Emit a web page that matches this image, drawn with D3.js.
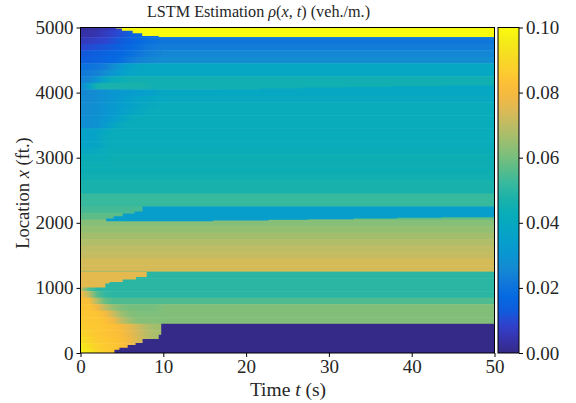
<!DOCTYPE html>
<html>
<head>
  <meta charset="utf-8">
  <title>LSTM Estimation</title>
  <script src="https://d3js.org/d3.v7.min.js"></script>
  <style>
    body { margin: 0; background: #fff; }
    text { font-family: "Liberation Serif", serif; fill: #262626; }
  </style>
</head>
<body>
<div id="chart"></div>
<script>
  // location of each row (ft), top of the plot first; every row is 100 ft tall
  const locations = d3.range(5000, -1, -100);
  // time columns for the early part (s); the last column holds until t = 50
  const timeCols = [0, 1, 2, 3, 4, 5, 6, 7, 8, 9, 10];

  // density per row (veh./m.) at each of the time columns
  const rho = [
    [.002,.003,.004,.005,.007,.009,.012,.015,.016,.017,.018],
    [.004,.004,.005,.007,.009,.011,.014,.016,.018,.019,.020],
    [.006,.007,.008,.009,.011,.013,.015,.017,.019,.020,.021],
    [.009,.010,.011,.012,.013,.015,.017,.019,.021,.022,.023],
    [.012,.013,.014,.015,.016,.017,.019,.021,.023,.024,.025],
    [.014,.014,.015,.016,.017,.019,.022,.024,.025,.026,.027],
    [.020,.020,.021,.023,.027,.032,.036,.038,.039,.039,.039],
    [.022,.023,.024,.027,.031,.035,.037,.039,.039,.039,.039],
    [.024,.025,.030,.038,.042,.044,.045,.045,.045,.045,.045],
    [.026,.035,.046,.047,.047,.047,.047,.047,.046,.045,.045],
    [.025,.026,.027,.029,.031,.032,.033,.034,.035,.036,.039],
    [.026,.026,.027,.029,.031,.033,.035,.037,.038,.039,.040],
    [.026,.027,.028,.030,.032,.034,.036,.038,.040,.041,.042],
    [.027,.027,.028,.030,.032,.035,.038,.040,.041,.042,.042],
    [.027,.028,.029,.031,.034,.038,.041,.042,.042,.042,.042],
    [.028,.028,.029,.033,.038,.041,.042,.042,.042,.042,.042],
    [.036,.036,.037,.040,.042,.042,.042,.042,.042,.042,.042],
    [.036,.036,.037,.041,.042,.042,.042,.042,.042,.042,.042],
    [.037,.037,.038,.041,.042,.042,.042,.042,.042,.042,.042],
    [.039,.040,.041,.042,.043,.043,.043,.043,.043,.043,.043],
    [.043,.043,.043,.043,.044,.044,.044,.044,.044,.044,.044],
    [.044,.044,.044,.044,.044,.044,.044,.044,.044,.044,.044],
    [.044,.044,.044,.044,.044,.044,.044,.044,.044,.044,.044],
    [.045,.045,.045,.045,.045,.045,.045,.045,.045,.045,.045],
    [.047,.047,.047,.047,.047,.047,.047,.047,.047,.047,.047],
    [.047,.047,.047,.047,.047,.047,.047,.047,.047,.047,.047],
    [.052,.052,.052,.052,.052,.052,.052,.052,.052,.052,.052],
    [.052,.052,.052,.052,.052,.052,.052,.052,.052,.052,.052],
    [.054,.054,.054,.054,.054,.054,.054,.054,.054,.054,.054],
    [.057,.057,.057,.057,.057,.057,.057,.057,.057,.057,.057],
    [.062,.062,.062,.062,.062,.062,.062,.062,.062,.062,.062],
    [.064,.064,.064,.064,.064,.064,.064,.064,.064,.064,.064],
    [.066,.066,.066,.066,.066,.066,.066,.066,.066,.066,.066],
    [.068,.068,.068,.068,.068,.068,.068,.068,.068,.068,.068],
    [.070,.070,.070,.070,.070,.070,.070,.070,.070,.070,.070],
    [.071,.071,.071,.071,.071,.071,.071,.071,.071,.071,.071],
    [.0735,.0735,.0735,.0735,.0735,.0735,.0735,.0735,.0735,.0735,.0735],
    [.0735,.0735,.0735,.0735,.0735,.0735,.0735,.0735,.0735,.0735,.0735],
    [.050,.050,.050,.050,.050,.050,.050,.050,.050,.050,.050],
    [.050,.050,.050,.050,.050,.050,.050,.050,.050,.050,.050],
    [.072,.056,.050,.050,.050,.050,.050,.050,.050,.050,.050],
    [.080,.070,.056,.051,.050,.050,.050,.050,.050,.050,.050],
    [.083,.082,.068,.058,.055,.055,.055,.055,.055,.055,.055],
    [.084,.084,.079,.070,.064,.061,.060,.060,.060,.060,.0615],
    [.085,.085,.084,.080,.072,.065,.062,.061,.061,.061,.0615],
    [.086,.085,.085,.083,.078,.070,.065,.062,.062,.062,.0615],
    [.087,.086,.085,.084,.083,.080,.076,.072,.068,.066,.066],
    [.089,.087,.085,.084,.083,.081,.077,.073,.069,.067,.067],
    [.092,.089,.086,.085,.084,.082,.078,.074,.070,.067,.067],
    [.096,.092,.088,.086,.085,.083,.079,.075,.070,.067,.067],
    [.098,.095,.090,.087,.085,.083,.079,.075,.070,.067,.067]
  ];

  // sharp fronts, laid over the rows
  const fronts = [
    // yellow jam at the top
    {v: .1,   t: [4.3,5,6.3,7.45,9.45,50],  lo: [4985,4950,4912,4870,4855,4855], hi: [5000,5000,5000,5000,5000,5000]},
    // thin rising edge around 4050 ft
    {v: .039, t: [17,21.8,26.5,32.1,37.4,43.7,50], lo: [4045,4045,4045,4045,4045,4045,4045], hi: [4050,4063,4077,4086,4097,4108,4108]},
    // blue band around 2100 ft
    {v: .034, t: [3.1,4,5.1,6.5,7.5,16,22.7,27.5,33,38.2,43.6,50],
      lo: [2025,2025,2025,2025,2025,2035,2046,2055,2066,2077,2086,2086],
      hi: [2065,2100,2143,2174,2250,2250,2250,2250,2250,2250,2250,2250]},
    // orange above the stepped front near 1000 ft
    {v: .076, t: [0,3,3.5,5.1,6.7,8], lo: [1005,1066,1092,1128,1169,1250], hi: [1250,1250,1250,1250,1250,1250]},
    // empty road at the bottom
    {v: 0,    t: [4.1,4.7,5.7,6.65,7.5,9.45,9.75,50], lo: [0,0,0,0,0,0,0,0], hi: [51,82,123,154,215,282,450,450]}
  ];

  const timeTicks = [0, 10, 20, 30, 40, 50];
  const locTicks = [0, 1000, 2000, 3000, 4000, 5000];
  const rhoTicks = [0, .02, .04, .06, .08, .1];

  const parula = ['#352a87','#3633ac','#2f42cd','#0f5cdd','#056ae1','#1178da','#148ad2','#0996d1',
    '#06a0cb','#06a7c2','#0aaeb6','#1db2a8','#38b99e','#5abc89','#7dbf7b','#9cbf6f','#bbbc65','#d8ba57',
    '#f0b944','#fdbe37','#fcce2e','#f6dc22','#f5eb18','#f9fb0e'];

  let margin = {left: 80.5, top: 27.5};
  let w = 414;
  let h = 325.5;

  let xScale = d3.scaleLinear().domain([0, 50]).range([0, w]);
  let yScale = d3.scaleLinear().domain([0, 5000]).range([h, 0]);
  let color = d3.scaleSequential(d3.piecewise(d3.interpolateRgb, parula)).domain([0, .1]);

  let root = d3.select('#chart').append('svg')
      .attr('width', 576)
      .attr('height', 403);
  let defs = root.append('defs');
  let svg = root.append('g')
      .attr('transform', `translate(${margin.left},${margin.top})`);

  defs.append('clipPath').attr('id', 'plot')
    .append('rect').attr('width', w).attr('height', h);

  // each row is one rect with a horizontal gradient through its time columns
  rho.forEach((row, i) => {
    let grad = defs.append('linearGradient')
        .attr('id', `row${i}`)
        .attr('gradientUnits', 'userSpaceOnUse')
        .attr('x1', xScale(0)).attr('x2', xScale(50))
        .attr('y1', 0).attr('y2', 0);
    row.forEach((v, j) => {
      grad.append('stop')
        .attr('offset', timeCols[j] / 50)
        .attr('stop-color', color(v));
    });
  });

  let heat = svg.append('g').attr('clip-path', 'url(#plot)');

  heat.selectAll('rect')
    .data(rho)
    .enter()
    .append('rect')
    .attr('x', xScale(0))
    .attr('width', w)
    .attr('y', (d, i) => yScale(locations[i] + 50))
    .attr('height', (d, i) => yScale(locations[i] - 50) - yScale(locations[i] + 50) + .5)
    .attr('fill', (d, i) => `url(#row${i})`);

  let frontArea = d3.area()
      .curve(d3.curveStepAfter)
      .x(d => xScale(d.t))
      .y0(d => yScale(d.lo))
      .y1(d => yScale(d.hi));

  heat.selectAll('path')
    .data(fronts)
    .enter()
    .append('path')
    .attr('d', f => frontArea(f.t.map((t, i) => ({t: t, lo: f.lo[i], hi: f.hi[i]}))))
    .attr('fill', f => color(f.v));

  // frame and axes
  svg.append('rect')
    .attr('width', w).attr('height', h)
    .attr('fill', 'none').attr('stroke', '#000').attr('stroke-width', 1);

  let xAxis = d3.axisBottom(xScale).tickValues(timeTicks).tickSize(4).tickPadding(3).tickFormat(d3.format('d'));
  let yAxis = d3.axisLeft(yScale).tickValues(locTicks).tickSize(4).tickPadding(3).tickFormat(d3.format('d'));

  let gx = svg.append('g').attr('transform', `translate(0,${h})`).call(xAxis);
  let gy = svg.append('g').call(yAxis);

  // colorbar
  let cbX = 498 - margin.left, cbW = 21;
  let cbScale = d3.scaleLinear().domain([0, .1]).range([h, 0]);
  let cbGrad = defs.append('linearGradient').attr('id', 'cb')
      .attr('x1', 0).attr('x2', 0).attr('y1', 1).attr('y2', 0);
  parula.forEach((c, i) => {
    cbGrad.append('stop').attr('offset', i / (parula.length - 1)).attr('stop-color', c);
  });
  svg.append('rect')
    .attr('x', cbX).attr('width', cbW)
    .attr('y', 0).attr('height', h)
    .attr('fill', 'url(#cb)')
    .attr('stroke', '#000').attr('stroke-width', 1);
  let cAxis = d3.axisRight(cbScale).tickValues(rhoTicks).tickSize(4).tickPadding(3).tickFormat(d3.format('.2f'));
  let gc = svg.append('g').attr('transform', `translate(${cbX + cbW},0)`).call(cAxis);

  [gx, gy, gc].forEach(g => {
    g.select('.domain').remove();
    g.selectAll('text').style('font-family', '"Liberation Serif", serif').style('font-size', '19px').attr('fill', '#262626');
    g.selectAll('line').attr('stroke', '#000');
  });

  // title and labels
  let title = root.append('text')
    .attr('x', 258.5).attr('y', 17)
    .attr('text-anchor', 'middle')
    .style('font-size', '16.2px');
  title.append('tspan').text('LSTM Estimation ');
  title.append('tspan').style('font-style', 'italic').text('ρ');
  title.append('tspan').text('(');
  title.append('tspan').style('font-style', 'italic').text('x');
  title.append('tspan').text(', ');
  title.append('tspan').style('font-style', 'italic').text('t');
  title.append('tspan').text(') (veh./m.)');

  let xLabel = root.append('text')
    .attr('x', 288).attr('y', 396)
    .attr('text-anchor', 'middle')
    .style('font-size', '19.5px');
  xLabel.append('tspan').text('Time ');
  xLabel.append('tspan').style('font-style', 'italic').text('t');
  xLabel.append('tspan').text(' (s)');

  let yLabel = root.append('text')
    .attr('transform', 'translate(29,193) rotate(-90)')
    .attr('text-anchor', 'middle')
    .style('font-size', '18.5px');
  yLabel.append('tspan').text('Location ');
  yLabel.append('tspan').style('font-style', 'italic').text('x');
  yLabel.append('tspan').text(' (ft.)');
</script>
</body>
</html>
